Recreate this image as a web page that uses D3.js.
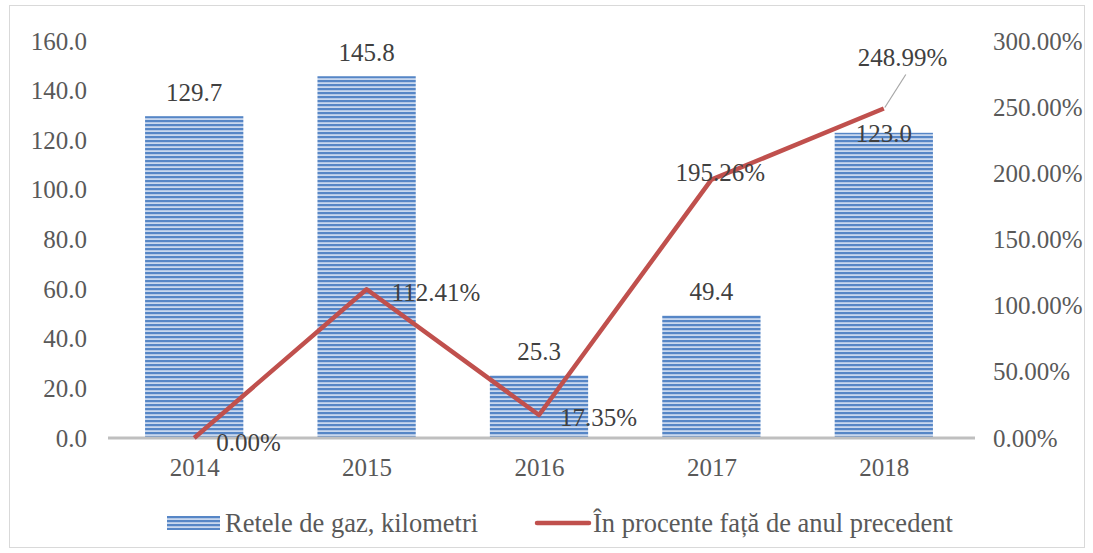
<!DOCTYPE html>
<html><head><meta charset="utf-8">
<script src="https://cdn.jsdelivr.net/npm/d3@7"></script>
<style>body{margin:0;background:#fff}svg{display:block}text{font-family:"Liberation Serif","Times New Roman",serif}</style>
</head><body>
<script>
const categories = ["2014","2015","2016","2017","2018"];
const kmValues = [129.7,145.8,25.3,49.4,123.0];
const pctValues = [0.00,112.41,17.35,195.26,248.99];
const leftTicks = [0,20,40,60,80,100,120,140,160];
const rightTicks = [0,50,100,150,200,250,300];
const seriesNames = ["Retele de gaz, kilometri","În procente față de anul precedent"];

const W=1093,H=553;
const svg=d3.select("body").append("svg").attr("width",W).attr("height",H);
const defs=svg.append("defs");
const pat=defs.append("pattern").attr("id","stripes").attr("patternUnits","userSpaceOnUse").attr("width",8).attr("height",4);
pat.append("rect").attr("width",8).attr("height",4).attr("fill","#c9d8ee");
pat.append("rect").attr("width",8).attr("height",2.2).attr("fill","#5686c6");

svg.append("rect").attr("x",9.5).attr("y",5.5).attr("width",1075).attr("height",542).attr("fill","#fff").attr("stroke","#d9d9d9");

const x0=108,x1=970,yTop=41,yBot=438;
const x=d3.scaleBand().domain(categories).range([x0,x1]).paddingInner(0.43).paddingOuter(0.215);
const xc=d3.scalePoint().domain(categories).range([x0,x1]).padding(0.5);
const yL=d3.scaleLinear().domain([0,160]).range([yBot,yTop]);
const yR=d3.scaleLinear().domain([0,300]).range([yBot,yTop]);

const tc="#595959";
const fs=25;
// left axis
const la=svg.append("g").attr("transform",`translate(${x0},0)`).call(d3.axisLeft(yL).tickValues(leftTicks).tickFormat(d3.format(".1f")).tickSize(0).tickPadding(21));
la.select(".domain").remove();
la.selectAll("text").attr("font-size",fs).attr("fill",tc).attr("font-family","Liberation Serif");
// right axis
const ra=svg.append("g").attr("transform",`translate(${x1},0)`).call(d3.axisRight(yR).tickValues(rightTicks).tickFormat(d=>d.toFixed(2)+"%").tickSize(0).tickPadding(23));
ra.select(".domain").remove();
ra.selectAll("text").attr("font-size",fs).attr("fill",tc).attr("font-family","Liberation Serif");

// bars
svg.append("g").selectAll("rect").data(kmValues).join("rect")
 .attr("x",(d,i)=>x(categories[i])).attr("y",d=>yL(d)).attr("width",x.bandwidth()).attr("height",d=>yBot-yL(d))
 .attr("fill","url(#stripes)");

// x axis
const xa=svg.append("g").attr("transform",`translate(0,${yBot})`).call(d3.axisBottom(xc).tickSize(0).tickPadding(20));
xa.select(".domain").remove();
xa.selectAll("text").attr("font-size",fs).attr("fill",tc).attr("font-family","Liberation Serif");
svg.append("line").attr("x1",x0).attr("x2",x1+5).attr("y1",yBot).attr("y2",yBot).attr("stroke","#bfbfbf").attr("stroke-width",3);

// line
const line=d3.line().x((d,i)=>xc(categories[i])).y(d=>yR(d));
svg.append("path").datum(pctValues).attr("d",line).attr("fill","none").attr("stroke","#c0504d").attr("stroke-width",4.5).attr("stroke-linejoin","round");

// bar labels
svg.append("g").selectAll("text").data(kmValues).join("text")
 .attr("x",(d,i)=>xc(categories[i])).attr("y",(d,i)=>i===4? yL(d) : yL(d)-24).attr("text-anchor","middle").attr("dy","0.35em")
 .attr("font-size",fs).attr("fill","#404040").text(d=>d.toFixed(1));

// line labels
const lblDx=[22,25,21,-36,-26];
const lblDy=[4,3,2,-7,-51];
svg.append("g").selectAll("text").data(pctValues).join("text")
 .attr("x",(d,i)=>xc(categories[i])+lblDx[i])
 .attr("y",(d,i)=>yR(d)+lblDy[i])
 .attr("text-anchor","start")
 .attr("dy","0.35em")
 .attr("font-size",fs).attr("fill","#404040").text(d=>d.toFixed(2)+"%");
// leader line for last label
svg.append("line").attr("x1",xc(categories[4])+1).attr("y1",yR(pctValues[4])-1).attr("x2",xc(categories[4])+22).attr("y2",yR(pctValues[4])-34).attr("stroke","#a6a6a6").attr("stroke-width",1.2);

// legend
const ly=523;
const lg=svg.append("g");
lg.append("rect").attr("x",167).attr("y",ly-7).attr("width",53).attr("height",14).attr("fill","url(#stripes)");
lg.append("text").attr("x",225).attr("y",ly).attr("dy","0.35em").attr("font-size",26.5).attr("fill",tc).text(seriesNames[0]);
lg.append("line").attr("x1",537).attr("x2",589).attr("y1",ly).attr("y2",ly).attr("stroke","#c0504d").attr("stroke-width",4.5).attr("stroke-linecap","round");
lg.append("text").attr("x",593).attr("y",ly).attr("dy","0.35em").attr("font-size",26.5).attr("fill",tc).text(seriesNames[1]);
</script>
</body></html>
